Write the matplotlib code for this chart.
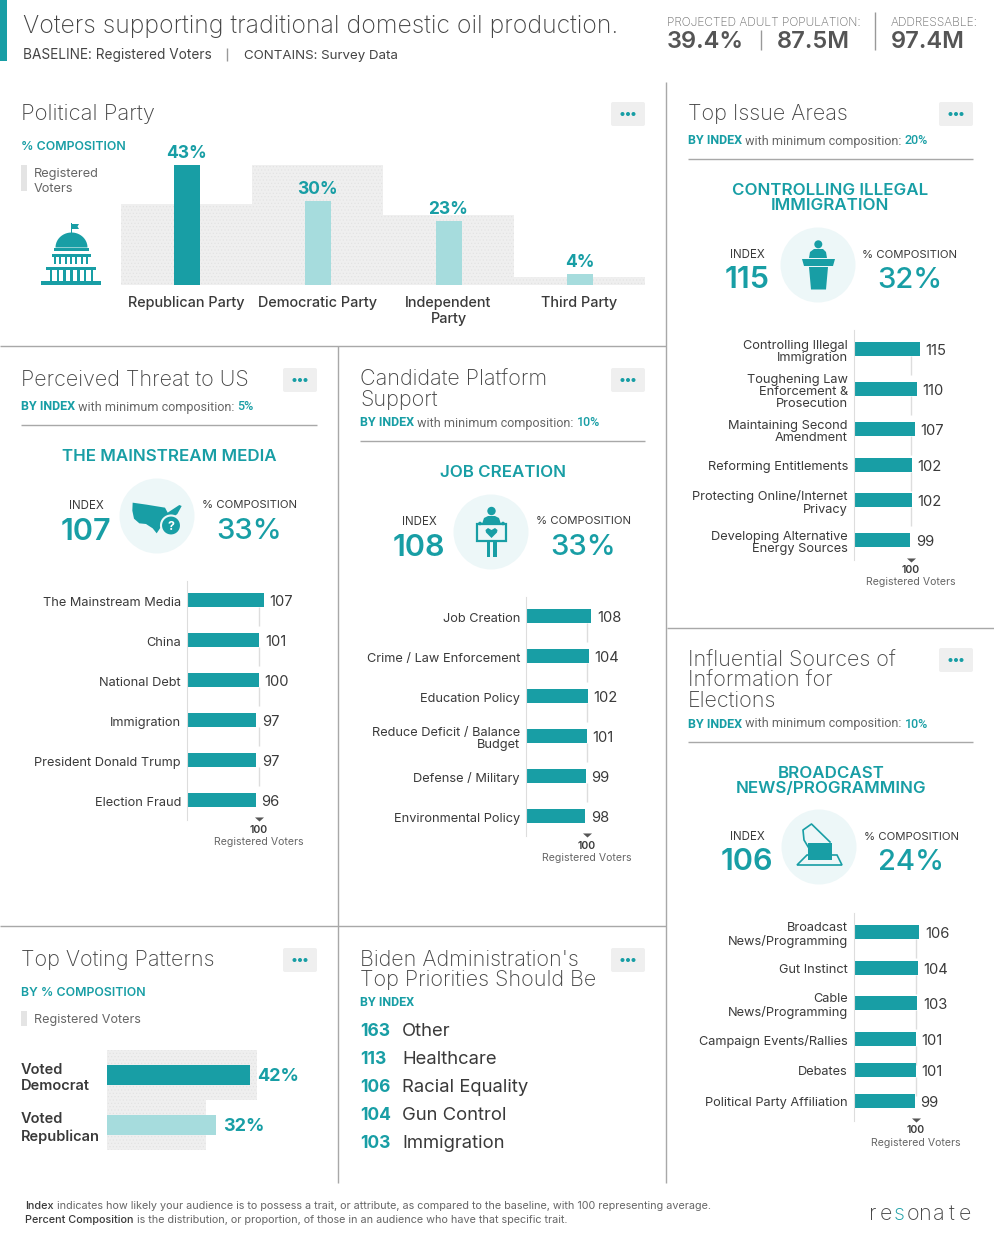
import numpy as np
import matplotlib
matplotlib.use('Agg')
import matplotlib.pyplot as plt
from matplotlib.patches import Circle, Rectangle, Polygon, FancyBboxPatch
from matplotlib.transforms import ScaledTranslation

W, H = 994, 1246
TEAL = '#189ea5'
LIGHT = '#a6dcdd'
PALE = '#edf7f8'
GREY = '#efefef'
DOTS = '#e2e2e2'
DARK = '#3a3a3a'
MID = '#666666'
RULE = '#a8a8a8'
FONT = 'Inter'
HEAD = 15.5

# political party
party_names = ['Republican Party', 'Democratic Party', 'Independent\nParty', 'Third Party']
party_comp = [43, 30, 23, 4]
party_base = [29, 43, 25, 3]

# voting patterns
vote_names = ['Voted\nDemocrat', 'Voted\nRepublican']
vote_comp = [42, 32]
vote_base = [44, 29]

# index charts
threat_names = ['The Mainstream Media', 'China', 'National Debt', 'Immigration',
                'President Donald Trump', 'Election Fraud']
threat_index = [107, 101, 100, 97, 97, 96]

platform_names = ['Job Creation', 'Crime / Law Enforcement', 'Education Policy',
                  'Reduce Deficit / Balance\nBudget', 'Defense / Military',
                  'Environmental Policy']
platform_index = [108, 104, 102, 101, 99, 98]

issue_names = ['Controlling Illegal\nImmigration', 'Toughening Law\nEnforcement &\nProsecution',
               'Maintaining Second\nAmendment', 'Reforming Entitlements',
               'Protecting Online/Internet\nPrivacy', 'Developing Alternative\nEnergy Sources']
issue_index = [115, 110, 107, 102, 102, 99]

source_names = ['Broadcast\nNews/Programming', 'Gut Instinct', 'Cable\nNews/Programming',
                'Campaign Events/Rallies', 'Debates', 'Political Party Affiliation']
source_index = [106, 104, 103, 101, 101, 99]

# biden list
biden_scores = [163, 113, 106, 104, 103]
biden_names = ['Other', 'Healthcare', 'Racial Equality', 'Gun Control', 'Immigration']

fig = plt.figure(figsize=(W / 100, H / 100), dpi=100, facecolor='white')
bg = fig.add_axes([0, 0, 1, 1])
bg.set_xlim(0, W)
bg.set_ylim(H, 0)
bg.axis('off')


def px_axes(x0, y0, x1, y1):
    ax = fig.add_axes([x0 / W, 1 - y1 / H, (x1 - x0) / W, (y1 - y0) / H])
    ax.patch.set_alpha(0)
    for s in ax.spines.values():
        s.set_visible(False)
    return ax


def label(x, y, s, size, color=DARK, weight='normal', ha='left', family=FONT, **kw):
    return bg.text(x, y, s, fontsize=size, color=color, fontweight=weight, ha=ha,
                   va='center_baseline', family=family, **kw)


def run(x, y, parts, family=FONT):
    # several colours on one line, placed one after the other
    r = fig.canvas.get_renderer()
    for s, size, color, weight in parts:
        t = label(x, y, s, size, color, weight, family=family)
        x = bg.transData.inverted().transform(t.get_window_extent(r).get_points())[1, 0]
    return x


def menu(cx, cy):
    bg.add_patch(FancyBboxPatch((cx - 15, cy - 10), 30, 20, boxstyle='round,pad=2,rounding_size=2',
                                fc=GREY, ec='none'))
    for dx in (-5.5, 0, 5.5):
        bg.add_patch(Circle((cx + dx, cy), 2, fc=TEAL, ec='none'))


def line(x0, y0, x1, y1, color=RULE, lw=1.0):
    bg.plot([x0, x1], [y0, y1], color=color, lw=lw, solid_capstyle='butt')


def subtitle(x, y, minimum=None):
    parts = [('BY INDEX', 9, TEAL, 'bold')]
    if minimum:
        parts += [(' with minimum composition: ', 9, MID, 'normal'), (minimum, 9, TEAL, 'medium')]
    run(x, y, parts, family='Roboto')


def hero(title, tx, ty, cx, cy, ix, index, comp_x, comp):
    for i, s in enumerate(title):
        label(tx, ty + i * 15, s, 12.2, TEAL, 'semibold', ha='center')
    bg.add_patch(Circle((cx, cy), 37.5, fc=PALE, ec='none'))
    label(ix, cy - 11.5, 'INDEX', 8.3, DARK, ha='center')
    label(ix, cy + 12.5, index, 22, TEAL, 'semibold', ha='center')
    label(comp_x, cy - 11.5, '% COMPOSITION', 8.2, DARK, ha='center')
    label(comp_x, cy + 12.5, comp, 21, TEAL, 'medium', ha='center')


def row_centres(names, first, uniform):
    if uniform:
        return first + 40.0 * np.arange(len(names))
    half = [{0: 15.5, 1: 20, 2: 20}[n.count('\n')] for n in names]
    gaps = [half[i] + half[i + 1] for i in range(len(names) - 1)]
    return first + np.concatenate([[0], np.cumsum(gaps)])


def index_chart(names, values, x0, first, scale, uniform=True):
    rows = row_centres(names, first, uniform)
    top, bottom = rows[0] - 19, rows[-1] + 20
    ax = px_axes(x0, top, x0 + 125, bottom)
    ax.set_xlim(0, 125 / scale)
    ax.set_ylim(bottom, top)
    ax.vlines(np.full(len(rows) - 1, 100), rows[:-1] + 7, rows[:-1] + 26, color='#dddddd', lw=1, zorder=1)
    ax.barh(rows, values, height=14, color=TEAL, zorder=2)
    ax.spines['left'].set_visible(True)
    ax.spines['left'].set_color('#dddddd')
    ax.set_xticks([])
    ax.set_yticks(rows, names, fontsize=9.2, color=DARK, family=FONT, linespacing=1.03, ma='right',
                  va='center_baseline')
    ax.tick_params(axis='y', length=0, pad=4)
    nudge = ScaledTranslation(0, -1.3 / 100, fig.dpi_scale_trans)
    for t in ax.get_yticklabels():
        t.set_transform(t.get_transform() + nudge)
    for v, r in zip(values, rows):
        ax.annotate(str(v), (v, r), xytext=(4, -0.7), textcoords='offset points', va='center_baseline',
                    fontsize=10.6, color=DARK, family=FONT, annotation_clip=False)
    ax.plot([100], [bottom - 0.5], marker=[(-1, 0.45), (1, 0.45), (0, -0.45)], ms=6.5, mew=0,
            color='#555555', clip_on=False, ls='none')
    ax.annotate('100', (100, bottom), xytext=(0, -7), textcoords='offset points', ha='center',
                va='center', fontsize=7.6, fontweight='semibold', color=DARK, family=FONT,
                annotation_clip=False)
    ax.annotate('Registered Voters', (100, bottom), xytext=(0, -16), textcoords='offset points',
                ha='center', va='center', fontsize=7.6, color=MID, family=FONT,
                annotation_clip=False)


# header
bg.add_patch(Rectangle((0, 0), 7, 61, fc=TEAL, ec='none'))
label(23, 24, 'Voters supporting traditional domestic oil production.', 17.8, '#444444', 'light')
label(23, 54, 'BASELINE: Registered Voters', 9.8, '#444444')
line(227, 48, 227, 61, '#999999')
label(244, 54, 'CONTAINS: Survey Data', 9.6, '#444444')
label(667, 21, 'PROJECTED ADULT POPULATION:', 8.6, MID, 'light')
label(667, 40, '39.4%', 17, '#555555', 'semibold')
line(761, 30, 761, 50, '#999999')
label(777, 40, '87.5M', 17, '#555555', 'semibold')
line(875, 12, 875, 50, '#999999')
label(891, 21, 'ADDRESSABLE:', 8.6, MID, 'light')
label(891, 40, '97.4M', 17, '#555555', 'semibold')

# panel separators
line(666, 82, 666, 1183)
line(0, 346, 666, 346)
line(338, 346, 338, 1183)
line(0, 926, 666, 926)
line(667, 628, W, 628)

# political party
label(21, 112, 'Political Party', 15.9, '#444444', 'light')
menu(628, 114)
label(21, 146, '% COMPOSITION', 8.9, TEAL, 'semibold')
bg.add_patch(Rectangle((21, 165), 6, 26, fc='#e4e4e4', ec='none'))
label(34, 173, 'Registered', 9.2, MID)
label(34, 188, 'Voters', 9.2, MID)

plt.rcParams['hatch.linewidth'] = 0.4
ax = px_axes(121, 165, 645, 285)
ax.set_xlim(-0.5, 3.5)
ax.set_ylim(0, 43)
pos = np.arange(len(party_names))
ax.bar(pos, party_base, width=1, color=GREY, edgecolor=DOTS, hatch='.....', lw=0, zorder=1)
ax.bar(pos, party_comp, width=26 / 131, color=[TEAL, LIGHT, LIGHT, LIGHT], zorder=2)
ax.set_yticks([])
ax.set_xticks(pos, party_names, fontsize=10.4, fontweight='medium', color=DARK, family=FONT,
              linespacing=1.15)
ax.tick_params(axis='x', length=0, pad=8)
for p, v in zip(pos, party_comp):
    ax.annotate(f'{v}%', (p, v), xytext=(0, 8.5), textcoords='offset points', ha='center',
                va='center', fontsize=12.5, fontweight='bold', color=TEAL, family=FONT,
                annotation_clip=False)

# capitol icon
bg.add_patch(Rectangle((71, 223), 1.3, 11, fc=TEAL))
bg.add_patch(Polygon([(72, 224), (79, 224), (77.5, 226.5), (79, 229), (72, 229)], fc=TEAL))
bg.add_patch(Polygon([(71.5 + 16 * np.cos(a), 247.5 - 15 * np.sin(a)) for a in np.linspace(0, np.pi, 30)], fc=TEAL))
for x0, y0, x1, y1 in [(54, 248, 89, 251), (52, 254, 91, 257), (46, 267, 96, 270), (41, 281, 101, 285)]:
    bg.add_patch(Rectangle((x0, y0), x1 - x0, y1 - y0, fc=TEAL, ec='none'))
for x in np.linspace(55, 87, 7):
    bg.add_patch(Rectangle((x - 1, 257), 2, 7, fc=TEAL, ec='none'))
for x in np.linspace(51, 92, 7):
    bg.add_patch(Rectangle((x - 1.3, 270), 2.6, 11, fc=TEAL, ec='none'))

# perceived threat
label(21, 378, 'Perceived Threat to US', HEAD, '#444444', 'light')
menu(300, 380)
subtitle(21, 405.5, '5%')
line(21, 425, 317, 425)
hero(['THE MAINSTREAM MEDIA'], 169, 455, 157, 516, 86, '107', 249, '33%')
usa = [(398, 188), (440, 194), (495, 203), (503, 218), (512, 212), (538, 195), (545, 198),
       (532, 222), (515, 235), (505, 262), (482, 262), (470, 280), (458, 265), (438, 252),
       (418, 250), (402, 236), (397, 212)]
bg.add_patch(Polygon([(x / 3, y / 3 + 440) for x, y in usa], fc=TEAL, ec='none'))
bg.add_patch(Circle((171, 525.5), 10, fc=TEAL, ec=PALE, lw=1.5))
label(171, 525.5, '?', 9, 'white', 'bold', ha='center')
index_chart(threat_names, threat_index, 186.5, 600, 0.72)

# candidate platform
label(360, 378, 'Candidate Platform', HEAD, '#444444', 'light')
label(360, 398, 'Support', HEAD, '#444444', 'light')
menu(628, 380)
subtitle(360, 421.5, '10%')
line(360, 441, 645, 441)
hero(['JOB CREATION'], 503, 471, 491, 532, 419, '108', 583, '33%')
bg.add_patch(Circle((491.5, 511), 4.2, fc=TEAL))
bg.add_patch(Polygon([(482, 524), (484, 518), (488, 516), (495, 516), (499, 518), (501, 524)], fc=TEAL))
bg.add_patch(Rectangle((477, 524), 29, 16.5, fc=PALE, ec=TEAL, lw=1.6))
for cx in (480, 503):
    bg.add_patch(Circle((cx, 523.5), 1.8, fc=TEAL))
bg.add_patch(Polygon([(491.5, 538), (486, 532.5), (485.5, 530), (488, 528), (491.5, 530), (495, 528),
                      (497.5, 530), (497, 532.5)], fc=TEAL))
bg.add_patch(Rectangle((486.5, 541), 3.5, 16, fc=TEAL, ec='none'))
bg.add_patch(Rectangle((493, 541), 3.5, 16, fc=TEAL, ec='none'))
index_chart(platform_names, platform_index, 525.5, 616, 0.61)

# top issues
label(688, 112, 'Top Issue Areas', HEAD, '#444444', 'light')
menu(956, 114)
subtitle(688, 139.5, '20%')
line(688, 159, 973, 159)
hero(['CONTROLLING ILLEGAL', 'IMMIGRATION'], 830, 189, 818, 265, 747, '115', 910, '32%')
bg.add_patch(Circle((818.3, 244.3), 4, fc=TEAL))
bg.add_patch(Polygon([(809, 258), (810, 252), (814, 249), (823, 249), (826, 252), (827, 258)], fc=TEAL))
bg.add_patch(Polygon([(802, 259), (835, 259), (833, 266), (804, 266)], fc=TEAL))
bg.add_patch(Polygon([(809, 267), (828, 267), (826, 289.5), (811, 289.5)], fc=TEAL))
index_chart(issue_names, issue_index, 853.5, 349, 0.574, uniform=False)

# influential sources
label(688, 659, 'Influential Sources of', HEAD, '#444444', 'light')
label(688, 679, 'Information for', HEAD, '#444444', 'light')
label(688, 699, 'Elections', HEAD, '#444444', 'light')
menu(956, 660)
subtitle(688, 722.5, '10%')
line(688, 742, 973, 742)
hero(['BROADCAST', 'NEWS/PROGRAMMING'], 831, 772, 819, 847, 747, '106', 911, '24%')
bg.add_patch(Rectangle((807.5, 843), 24, 17, fc=TEAL, ec='none'))
hand = [(813, 855), (804, 840), (803, 830), (811.5, 824), (830, 842)]
bg.plot(*zip(*hand), color=TEAL, lw=1.2)
tray = [(807, 855), (797, 865), (842, 865), (837, 855), (832, 855)]
bg.add_patch(Polygon(tray, closed=True, fc='none', ec=TEAL, lw=1.2))
index_chart(source_names, source_index, 853.5, 932, 0.62, uniform=False)

# voting patterns
label(21, 958, 'Top Voting Patterns', HEAD, '#444444', 'light')
menu(300, 960)
label(21, 992, 'BY % COMPOSITION', 8.9, TEAL, 'semibold')
bg.add_patch(Rectangle((21, 1011), 6, 15, fc='#e4e4e4', ec='none'))
label(34, 1019, 'Registered Voters', 9.1, MID)

ax = px_axes(107, 1050, 107 + 44 * 3.405, 1150)
ax.set_xlim(0, 44)
ax.set_ylim(1.5, -0.5)
pos = np.arange(len(vote_names))
ax.barh(pos, vote_base, height=1, color=GREY, edgecolor=DOTS, hatch='.....', lw=0, zorder=1)
ax.barh(pos, vote_comp, height=0.4, color=[TEAL, LIGHT], zorder=2)
ax.set_xticks([])
ax.set_yticks(pos, vote_names, fontsize=10.5, fontweight='semibold', color=DARK, family=FONT,
              linespacing=1.25, ha='left', ma='left')
ax.tick_params(axis='y', length=0, pad=62)
for p, v in zip(pos, vote_comp):
    ax.annotate(f'{v}%', (v, p), xytext=(5, 0.7), textcoords='offset points', va='center_baseline',
                fontsize=13, fontweight='bold', color=TEAL, family=FONT, annotation_clip=False)

# biden list
label(360, 958, "Biden Administration's", HEAD, '#444444', 'light')
label(360, 978, 'Top Priorities Should Be', HEAD, '#444444', 'light')
menu(628, 960)
subtitle(360, 1001)
for i, (score, name) in enumerate(zip(biden_scores, biden_names)):
    label(360, 1030 + i * 28, str(score), 12.6, TEAL, 'bold')
    label(402, 1030 + i * 28, name, 13.3, DARK)

# footer
run(25, 1205, [('Index', 7.8, DARK, 'medium'),
               (' indicates how likely your audience is to possess a trait, or attribute, as compared '
                'to the baseline, with 100 representing average.', 7.8, MID, 'normal')])
run(25, 1219, [('Percent Composition', 7.8, DARK, 'medium'),
               (' is the distribution, or proportion, of those in an audience who have that specific trait.',
                7.8, MID, 'normal')])
for i, ch in enumerate('resonate'):
    label(873 + i * 13.2, 1212, ch, 15.5, TEAL if ch == 's' else '#444444', 'light', ha='center')

fig.savefig('out.png', dpi=100)
